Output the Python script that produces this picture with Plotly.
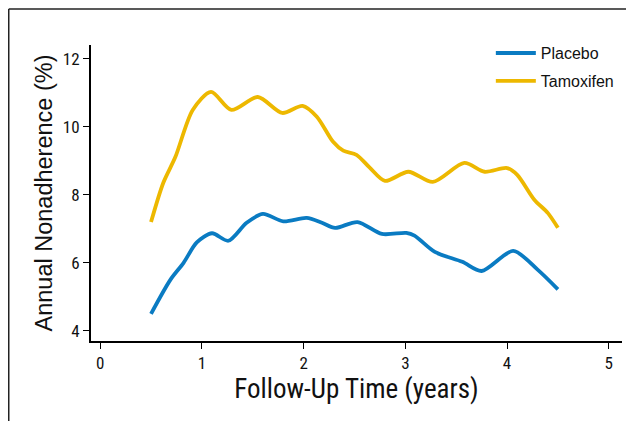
import plotly.graph_objects as go

# Data
tam_x = [0.5, 0.62, 0.74, 0.91, 1.09, 1.29, 1.55, 1.79, 1.99, 2.13, 2.29, 2.39, 2.52, 2.65,
         2.8, 3.03, 3.27, 3.58, 3.78, 4.0, 4.1, 4.27, 4.4, 4.5]
tam_y = [7.2, 8.35, 9.12, 10.5, 11.03, 10.5, 10.88, 10.41, 10.62, 10.3, 9.56, 9.3, 9.18, 8.8,
         8.41, 8.68, 8.38, 8.94, 8.68, 8.79, 8.59, 7.85, 7.47, 7.03]

pla_x = [0.5, 0.69, 0.82, 0.95, 1.1, 1.26, 1.44, 1.6, 1.8, 2.03, 2.18, 2.31, 2.53, 2.77,
         3.01, 3.09, 3.29, 3.56, 3.75, 4.06, 4.3, 4.5]
pla_y = [4.5, 5.5, 6.0, 6.6, 6.87, 6.65, 7.18, 7.44, 7.22, 7.32, 7.18, 7.03, 7.2, 6.85,
         6.88, 6.8, 6.32, 6.03, 5.76, 6.35, 5.8, 5.22]

x_ticks = [0, 1, 2, 3, 4, 5]
y_ticks = [4, 6, 8, 10, 12]

BLUE = "#0A7BC2"
GOLD = "#EDB800"
COND = "Liberation Sans Narrow, Roboto Condensed, Arial Narrow, Liberation Sans, sans-serif"
SANS = "Liberation Sans, Arial, Helvetica, sans-serif"

fig = go.Figure()
fig.add_trace(go.Scatter(x=pla_x, y=pla_y, mode="lines", name="Placebo",
                         line=dict(color=BLUE, width=3.8, shape="spline", smoothing=0.8),
                         legendgroup="a"))
fig.add_trace(go.Scatter(x=tam_x, y=tam_y, mode="lines", name="Tamoxifen",
                         line=dict(color=GOLD, width=3.8, shape="spline", smoothing=0.8),
                         legendgroup="b"))

axis_common = dict(showline=True, linecolor="black", linewidth=2, ticks="outside",
                   ticklen=6, tickwidth=1.2, tickcolor="black", showgrid=False,
                   zeroline=False, tickfont=dict(family=COND, size=17, color="#111"))

fig.update_layout(
    width=634, height=421,
    margin=dict(l=83, r=20, t=37, b=88),
    plot_bgcolor="white", paper_bgcolor="white",
    xaxis=dict(range=[-0.09, 5.13], tickvals=x_ticks,
               title=dict(text="Follow-Up Time (years)", font=dict(family=COND, size=27, color="#111"),
                          standoff=5),
               **axis_common),
    yaxis=dict(range=[3.7, 12.41], tickvals=y_ticks,
               title=dict(text="Annual Nonadherence (%)", font=dict(family=SANS, size=23.5, color="#111"),
                          standoff=4),
               **axis_common),
    legend=dict(x=0.753, y=1.03, xanchor="left", yanchor="top", bgcolor="rgba(0,0,0,0)",
                font=dict(family=SANS, size=16, color="#111"),
                traceorder="grouped", tracegroupgap=4, itemwidth=40),
    shapes=[
        dict(type="line", xref="paper", yref="paper", x0=-0.1549, x1=-0.1549, y0=-0.35, y1=1.122,
             line=dict(color="#222", width=1.5)),
        dict(type="line", xref="paper", yref="paper", x0=-0.1549, x1=1.1, y0=1.122, y1=1.122,
             line=dict(color="#222", width=1.5)),
    ],
)

fig.write_html("out.html")
